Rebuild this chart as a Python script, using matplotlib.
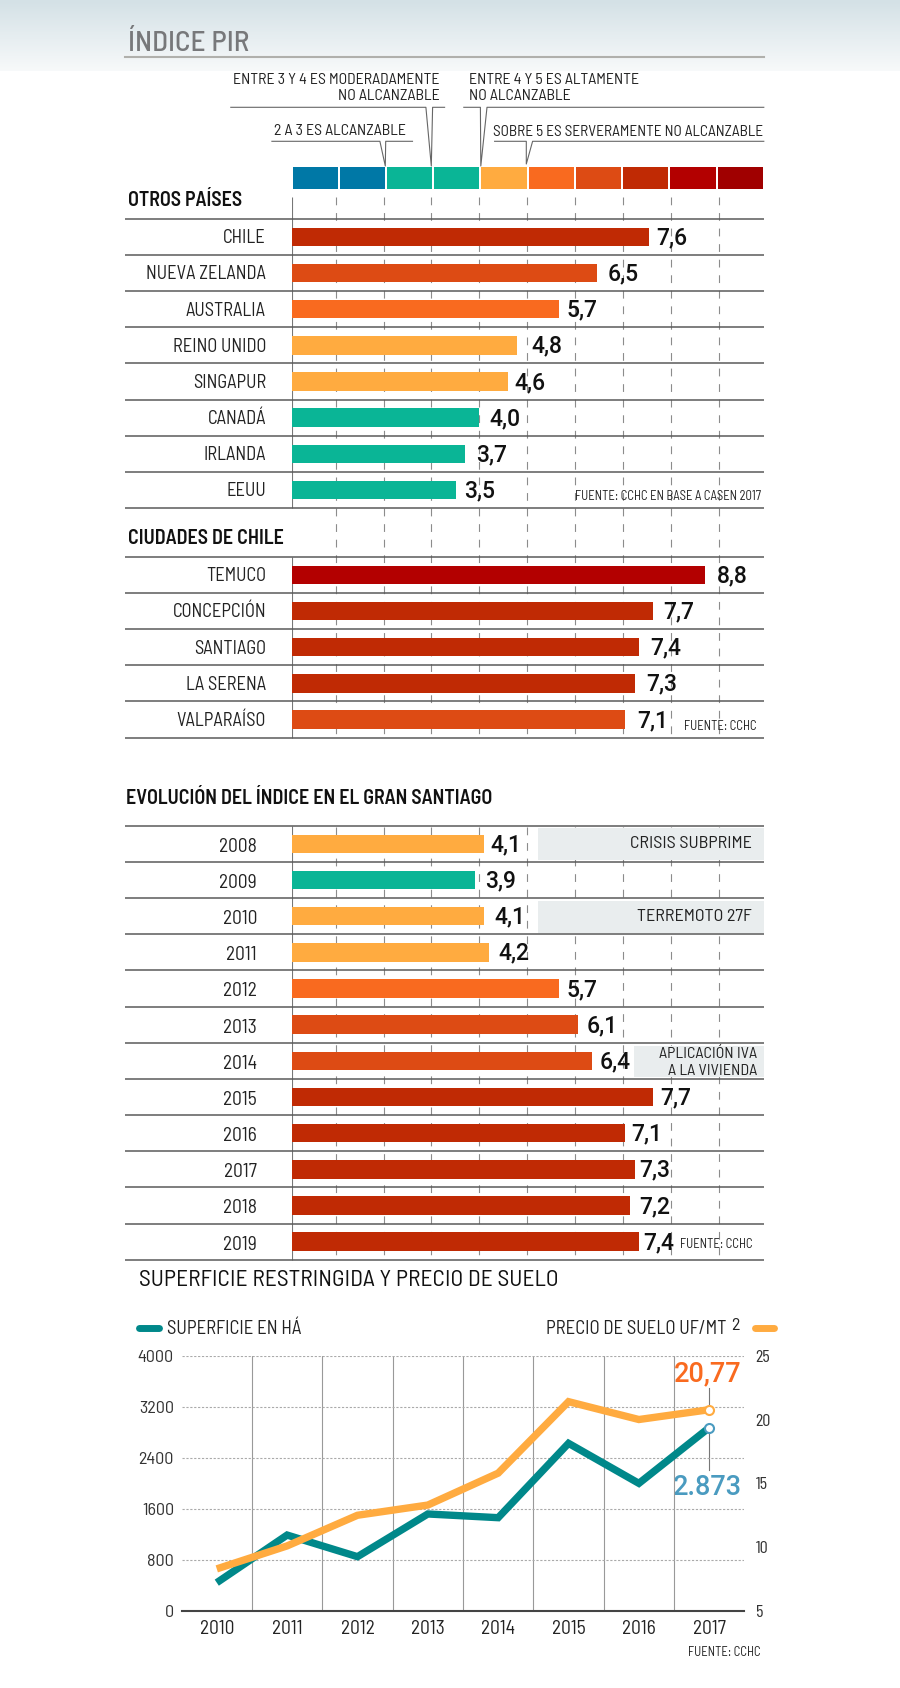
import numpy as np
import matplotlib
matplotlib.use('Agg')
import matplotlib.pyplot as plt

NARROW = ['Barlow Condensed', 'Liberation Sans', 'DejaVu Sans']
SEMI = ['Barlow Semi Condensed', 'Roboto', 'DejaVu Sans']
plt.rcParams['font.family'] = SEMI

# data
paises = ['CHILE', 'NUEVA ZELANDA', 'AUSTRALIA', 'REINO UNIDO', 'SINGAPUR', 'CANADÁ', 'IRLANDA', 'EEUU']
paises_pir = [7.6, 6.5, 5.7, 4.8, 4.6, 4.0, 3.7, 3.5]
ciudades = ['TEMUCO', 'CONCEPCIÓN', 'SANTIAGO', 'LA SERENA', 'VALPARAÍSO']
ciudades_pir = [8.8, 7.7, 7.4, 7.3, 7.1]
anios = ['2008', '2009', '2010', '2011', '2012', '2013', '2014', '2015', '2016', '2017', '2018', '2019']
anios_pir = [4.1, 3.9, 4.1, 4.2, 5.7, 6.1, 6.4, 7.7, 7.1, 7.3, 7.2, 7.4]

linea_anios = ['2010', '2011', '2012', '2013', '2014', '2015', '2016', '2017']
superficie_ha = [444, 1190, 851, 1520, 1462, 2627, 2000, 2873]
precio_suelo = [8.3, 10.1, 12.5, 13.3, 15.8, 21.4, 20.0, 20.77]

# colours
BLUE, TEAL, YELLOW, ORANGE = '#0078A6', '#0AB596', '#FFAB40', '#F96A1F'
DKORANGE, BRICK, RED, DKRED = '#DD4B14', '#C02A04', '#B30000', '#A00000'
escala_colores = [BLUE, BLUE, TEAL, TEAL, YELLOW, ORANGE, DKORANGE, BRICK, RED, DKRED]
paises_colores = [BRICK, DKORANGE, ORANGE, YELLOW, YELLOW, TEAL, TEAL, TEAL]
ciudades_colores = [RED, BRICK, BRICK, BRICK, DKORANGE]
anios_colores = [YELLOW, TEAL, YELLOW, YELLOW, ORANGE, DKORANGE, DKORANGE, BRICK, BRICK, BRICK, BRICK, BRICK]
LINE_TEAL = '#00888A'
CALL_BLUE = '#4A9BC0'

# gap between bar end and its value, pixels
paises_gap = [8, 11, 7, 14, 7, 10, 11, 8]
ciudades_gap = [12, 10, 11, 12, 12]
anios_gap = [6, 10, 10, 9, 7, 8, 7, 7, 6, 5, 9, 4]

W, H = 900, 1688
RULE = '#5a5a5a'
X0, X1 = 291.5, 763.8
XMAX = 10.05
ROW = 36.17

fig = plt.figure(figsize=(W / 100, H / 100), dpi=100, facecolor='white')


def px_axes(x0, y0, x1, y1, **kw):
    return fig.add_axes([x0 / W, 1 - y1 / H, (x1 - x0) / W, (y1 - y0) / H], **kw)


# background band
bg = px_axes(0, 0, W, 71)
bg.imshow(np.linspace(0, 1, 71).reshape(-1, 1), aspect='auto', cmap=matplotlib.colors.LinearSegmentedColormap.from_list('band', ['#D4E1E6', '#F7F9FA']))
bg.axis('off')

# bars share one value scale, y is in page pixels
ax = px_axes(X0, 0, X1, H)
ax.set_xlim(0, XMAX)
ax.set_ylim(H, 0)
ax.axis('off')
ax.patch.set_alpha(0)
UNIT = (X1 - X0) / XMAX

# overlay for rules and text, in page pixels
ov = px_axes(0, 0, W, H)
ov.set_xlim(0, W)
ov.set_ylim(H, 0)
ov.axis('off')
ov.patch.set_alpha(0)

grid_x = [(335.7 + 47.85 * k - X0) / UNIT for k in range(9)]
ax.vlines(grid_x, 197, 740, color='#8c8c8c', lw=0.8, linestyles=(0, (7, 7)), zorder=1)
ax.vlines(grid_x, 827, 1262, color='#8c8c8c', lw=0.8, linestyles=(0, (7, 7)), zorder=1)
for y0, y1 in [(197, 508), (556.7, 738), (826, 1260)]:
    ax.vlines(0, y0, y1, color='#777777', lw=0.8, zorder=1)

# colour scale strip
SEG = XMAX / 10
ax.bar([SEG * (k + 0.5) for k in range(10)], 22, width=SEG - 0.045, bottom=166.7, color=escala_colores, zorder=2)


def panel(top, labels, values, colors, gaps, label_x=266, label_dy=1.5, size=13.3):
    ys = [top + ROW * (i + 0.5) for i in range(len(values))]
    ax.barh(ys, values, height=18.5, color=colors, zorder=2)
    for k in range(len(values) + 1):
        ov.plot([125, 764], [top + ROW * k] * 2, color=RULE, lw=1.1, solid_capstyle='butt')
    for y, lab, v, g in zip(ys, labels, values, gaps):
        ov.text(label_x, y + label_dy, lab, ha='right', va='center', fontsize=size, color='#222222')
        xv = X0 + v * UNIT + g
        ov.text(xv, y + 7.5, f'{v:.1f}'.replace('.', ','), ha='left', va='baseline', fontsize=16.5, family='Roboto', fontweight='medium', color='#111111')


# grey notes go under the text, above the dashes
for x0, y0, x1, y1 in [(538.4, 828, 764, 860), (538.4, 901, 764, 932.7), (634, 1045.7, 764, 1077.3)]:
    ov.fill_between([x0, x1], y0, y1, color='#E9EDEE', lw=0, zorder=0)

panel(218.7, paises, paises_pir, paises_colores, paises_gap)
panel(556.7, ciudades, ciudades_pir, ciudades_colores, ciudades_gap)
panel(825.7, anios, anios_pir, anios_colores, anios_gap, label_x=257, label_dy=3, size=14)

# headings
ov.text(127.5, 44, 'ÍNDICE PIR', fontsize=21, fontweight='medium', color='#77787A', va='center', ha='left')
ov.plot([125, 764], [57, 57], color='#B0B0AC', lw=1.5)
HEAD = dict(fontsize=14.4, fontweight='semibold', color='#111111', va='center', ha='left')
ov.text(128.5, 201, 'OTROS PAÍSES', **HEAD)
ov.text(127.5, 538, 'CIUDADES DE CHILE', **HEAD)
ov.text(125.5, 799, 'EVOLUCIÓN DEL ÍNDICE EN EL GRAN SANTIAGO', **HEAD)
ov.text(139, 1281, 'SUPERFICIE RESTRINGIDA Y PRECIO DE SUELO', fontsize=16.9, color='#111111', va='center', ha='left')

# scale callouts
NOTE = dict(fontsize=11.4, color='#222222', va='center')
ov.text(439.3, 80, 'ENTRE 3 Y 4 ES MODERADAMENTE', ha='right', **NOTE)
ov.text(439.3, 96, 'NO ALCANZABLE', ha='right', **NOTE)
ov.text(469.2, 80, 'ENTRE 4 Y 5 ES ALTAMENTE', ha='left', **NOTE)
ov.text(469.2, 96, 'NO ALCANZABLE', ha='left', **NOTE)
ov.text(274, 131, '2 A 3 ES ALCANZABLE', ha='left', **NOTE)
ov.text(763, 132, 'SOBRE 5 ES SERVERAMENTE NO ALCANZABLE', ha='right', fontsize=11, color='#222222', va='center')
callouts = [
    ([230.8, 425.9, 431.3, 432.6, 444.6], [107.3, 107.3, 166, 107.3, 107.3]),
    ([463.8, 480.4, 480.8, 487, 763.8], [107.3, 107.3, 166, 107.3, 107.3]),
    ([271.9, 379.9, 385.3, 385.7, 412.5], [141.3, 141.3, 166, 141.3, 141.3]),
    ([494.6, 526.3, 526.3, 532.6, 763.8], [141.3, 141.3, 164, 141.3, 141.3]),
]
for xs, ys in callouts:
    ov.plot(xs, ys, color='#666666', lw=0.8)

# note boxes text and sources
ov.text(751.8, 844, 'CRISIS SUBPRIME', ha='right', va='center', fontsize=13, color='#222222')
ov.text(751.8, 916.5, 'TERREMOTO 27F', ha='right', va='center', fontsize=13, color='#222222')
ov.text(757.6, 1054, 'APLICACIÓN IVA', ha='right', va='center', fontsize=11.5, color='#222222')
ov.text(757.6, 1070.7, 'A LA VIVIENDA', ha='right', va='center', fontsize=11.5, color='#222222')
ov.text(760.7, 496, 'FUENTE: CCHC EN BASE A CASEN 2017', ha='right', va='center', fontsize=9.1, color='#222222')
ov.text(757, 726, 'FUENTE: CCHC', ha='right', va='center', fontsize=9.1, color='#222222')
ov.text(752.7, 1245, 'FUENTE: CCHC', ha='right', va='center', fontsize=9.1, color='#222222')
ov.text(760.7, 1652, 'FUENTE: CCHC', ha='right', va='center', fontsize=9.1, color='#222222')

# line chart
a1 = px_axes(181.6, 1355.7, 744.4, 1611)
a1.set_xlim(0, 8)
a1.set_ylim(0, 4000)
a1.patch.set_alpha(0)
a2 = a1.twinx()
a2.set_ylim(5, 25)
a2.patch.set_alpha(0)
xs = [i + 0.5 for i in range(8)]

a1.set_yticks([0, 800, 1600, 2400, 3200, 4000])
a1.set_xticks(range(1, 8), minor=False)
a1.set_xticklabels([])
a1.grid(axis='y', color='#aaaaaa', ls=(0, (2, 1.5)), lw=0.8)
a1.grid(axis='x', color='#999999', ls='-', lw=0.8)
a1.set_xticks(xs, minor=True)
a1.set_xticklabels(linea_anios, minor=True)
a1.tick_params(axis='x', which='both', length=0)
a1.tick_params(axis='x', which='minor', pad=6.5, labelsize=14, labelcolor='#222222')
a1.tick_params(axis='y', length=0, pad=5.5, labelsize=13, labelcolor='#333333')
a2.set_yticks([5, 10, 15, 20, 25])
a2.tick_params(axis='y', length=0, pad=8, labelsize=13, labelcolor='#333333')
for lab in a2.get_yticklabels():
    lab.set_family(NARROW)
for a in (a1, a2):
    for s in ('top', 'left', 'right'):
        a.spines[s].set_visible(False)
a1.spines['bottom'].set_color('#444444')
a1.spines['bottom'].set_linewidth(1.5)
a2.spines['bottom'].set_visible(False)

a1.plot(xs, superficie_ha, color=LINE_TEAL, lw=5.3, solid_joinstyle='miter', solid_capstyle='butt', zorder=3)
a2.plot(xs, precio_suelo, color=YELLOW, lw=5.3, solid_joinstyle='miter', solid_capstyle='butt', zorder=4)
a1.plot(xs[-1], superficie_ha[-1], 'o', ms=6.5, mfc='white', mec=CALL_BLUE, mew=1.5, zorder=5)
a2.plot(xs[-1], precio_suelo[-1], 'o', ms=6.5, mfc='white', mec=YELLOW, mew=1.5, zorder=5)

ov.plot([709.2, 709.2], [1388, 1405], color='#777777', lw=0.8)
ov.plot([709.2, 709.2], [1432, 1470], color='#777777', lw=0.8)
ov.text(707.8, 1374, '20,77', ha='center', va='center', fontsize=19.5, family='Roboto', fontweight='medium', color=ORANGE)
ov.text(707.8, 1487.5, '2.873', ha='center', va='center', fontsize=19.5, family='Roboto', fontweight='medium', color=CALL_BLUE)

# legend
ov.plot([139, 159], [1327.7, 1327.7], color=LINE_TEAL, lw=5, solid_capstyle='round')
ov.plot([755, 774], [1327.7, 1327.7], color=YELLOW, lw=5, solid_capstyle='round')
ov.text(167.3, 1329.5, 'SUPERFICIE EN HÁ', ha='left', va='center', fontsize=13.5, color='#222222')
ov.text(727, 1329.5, 'PRECIO DE SUELO UF/MT', ha='right', va='center', fontsize=13.5, color='#222222')
ov.text(731, 1326, '2', ha='left', va='center', fontsize=13, color='#222222')

fig.savefig('out.png', dpi=100)
